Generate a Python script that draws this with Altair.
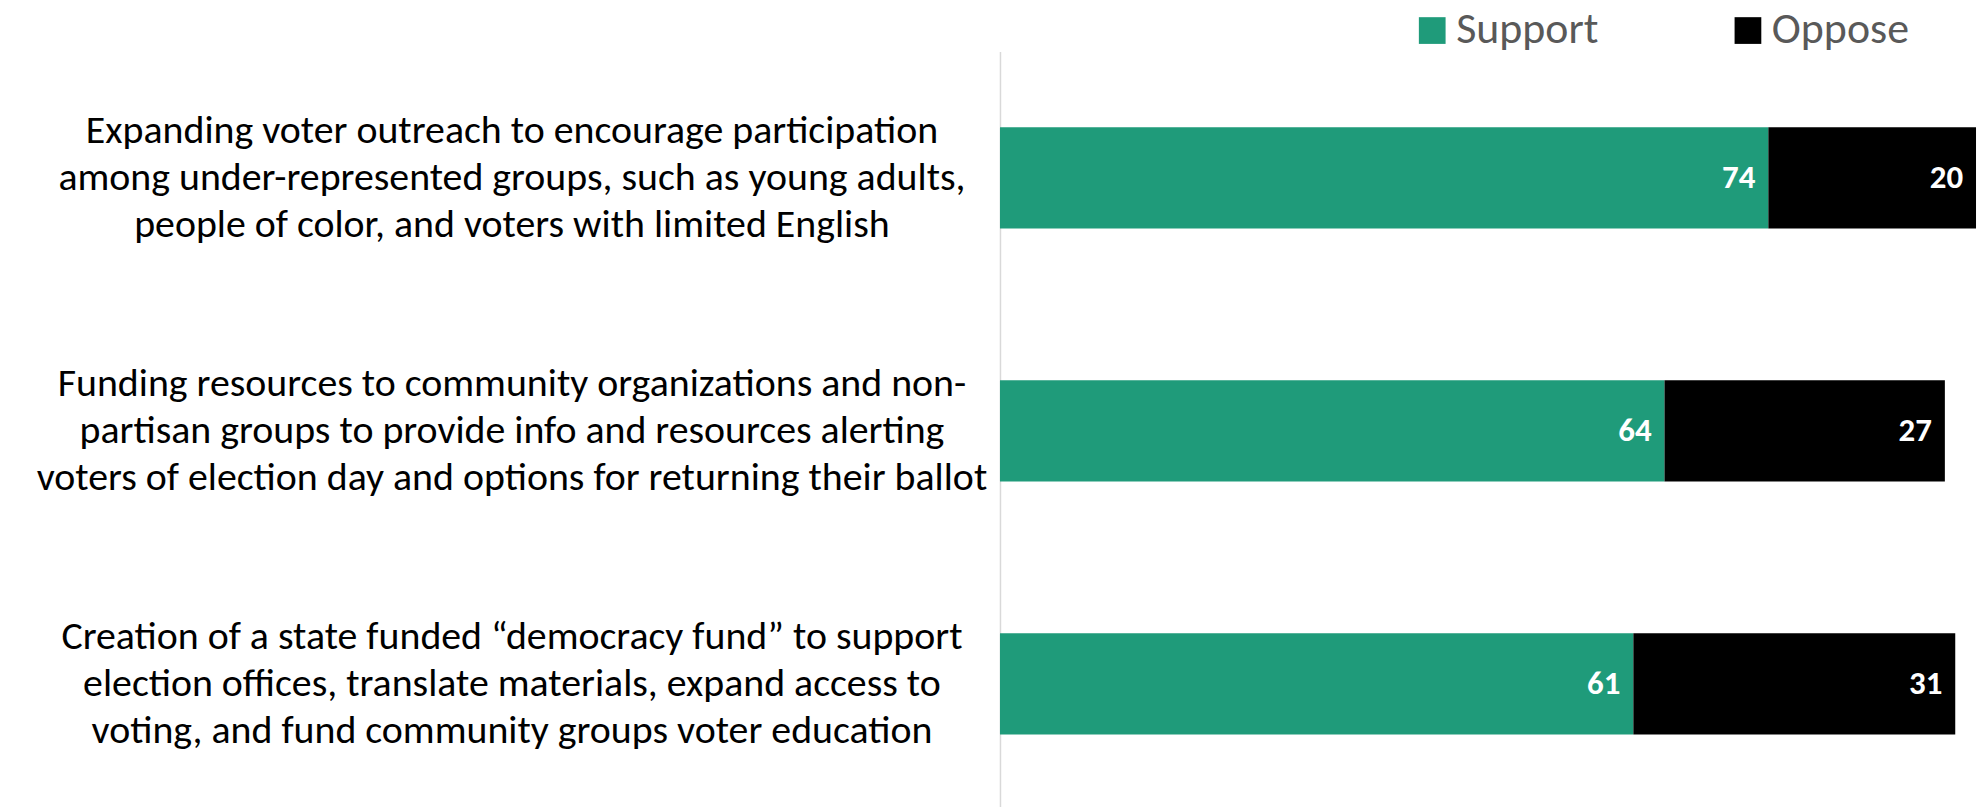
import altair as alt
import pandas as pd

categories = [
    "Expanding voter outreach to encourage participation\namong under-represented groups, such as young adults,\npeople of color, and voters with limited English",
    "Funding resources to community organizations and non-\npartisan groups to provide info and resources alerting\nvoters of election day and options for returning their ballot",
    "Creation of a state funded \u201cdemocracy fund\u201d to support\nelection offices, translate materials, expand access to\nvoting, and fund community groups voter education",
]
support = [74, 64, 61]
oppose = [20, 27, 31]
responses = ["Support", "Oppose"]
colors = ["#1f9b7a", "#000000"]

rows = []
for i, c in enumerate(categories):
    rows.append({"cat": c, "order": i, "response": "Support", "value": support[i], "start": 0, "end": support[i]})
    rows.append({"cat": c, "order": i, "response": "Oppose", "value": oppose[i], "start": support[i], "end": support[i] + oppose[i]})
df = pd.DataFrame(rows)
cats_df = pd.DataFrame({"cat": categories})

FONT = "Carlito, Calibri, Lato, sans-serif"

yenc = alt.Y("cat:N", sort=categories,
             scale=alt.Scale(paddingInner=0.6, paddingOuter=0.3),
             axis=alt.Axis(title=None, labels=False, ticks=False, tickSize=0,
                           domainColor="#d9d9d9", domainWidth=1.5))
xenc = alt.X("start:Q", scale=alt.Scale(domain=[0, 94], nice=False, zero=True), axis=None)

bars = alt.Chart(df).mark_bar().encode(
    x=xenc,
    x2="end:Q",
    y=yenc,
    color=alt.Color("response:N",
                    scale=alt.Scale(domain=responses, range=colors),
                    legend=alt.Legend(title=None, orient="none", direction="horizontal",
                                      legendX=412, legendY=-43,
                                      symbolType="square", symbolSize=720,
                                      symbolStrokeWidth=0, symbolOpacity=1,
                                      labelFont=FONT, labelFontSize=44,
                                      labelColor="#595959", labelOffset=2,
                                      labelLimit=400,
                                      columnPadding=128)),
)

vals = alt.Chart(df).mark_text(align="right", baseline="middle", dx=-13,
                               color="white", fontWeight="bold",
                               font=FONT, fontSize=33).encode(
    x=alt.X("end:Q"),
    y=alt.Y("cat:N", sort=categories),
    text="value:Q",
)

labels = alt.Chart(cats_df).mark_text(align="center", baseline="middle",
                                      lineBreak="\n", font=FONT, fontSize=40,
                                      lineHeight=47, dy=-47, color="#000000").encode(
    x=alt.value(-490),
    y=alt.Y("cat:N", sort=categories),
    text="cat:N",
)

chart = alt.layer(bars, vals, labels).properties(
    width=980, height=762,
    autosize=alt.AutoSizeParams(type="none"),
    padding={"left": 996, "top": 42, "right": 4, "bottom": 0},
).configure_view(stroke=None)

chart.save("out.html", embed_options={"renderer": "svg", "actions": False})
